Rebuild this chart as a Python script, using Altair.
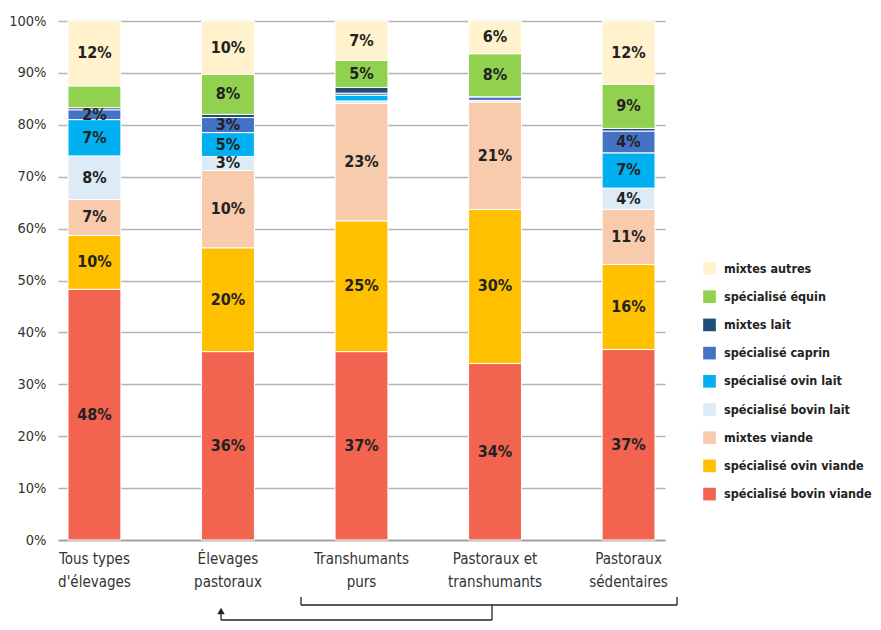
import altair as alt
import pandas as pd

groups = ["Tous types|d'élevages", "Élevages|pastoraux", "Transhumants|purs",
          "Pastoraux et|transhumants", "Pastoraux|sédentaires"]

series = ["spécialisé bovin viande", "spécialisé ovin viande", "mixtes viande",
          "spécialisé bovin lait", "spécialisé ovin lait", "spécialisé caprin",
          "mixtes lait", "spécialisé équin", "mixtes autres"]

colors = ["#F26450", "#FFC000", "#F8CBAD", "#DDEBF7", "#00B0F0", "#4472C4",
          "#1F4E79", "#92D050", "#FFF2CC"]

bovin_viande = [48.3, 36.3, 36.3, 34.0, 36.7]
ovin_viande = [10.4, 20.0, 25.2, 29.7, 16.4]
mixtes_viande = [6.9, 14.9, 22.6, 20.7, 10.6]
bovin_lait = [8.4, 2.7, 0.5, 0.3, 4.1]
ovin_lait = [7.0, 4.6, 1.1, 0.0, 6.8]
caprin = [1.9, 2.9, 0.4, 0.7, 4.2]
mixtes_lait = [0.4, 0.6, 1.1, 0.0, 0.5]
equin = [4.2, 7.7, 5.2, 8.3, 8.5]
autres = [12.5, 10.3, 7.6, 6.3, 12.2]

lab_bovin_viande = ["48%", "36%", "37%", "34%", "37%"]
lab_ovin_viande = ["10%", "20%", "25%", "30%", "16%"]
lab_mixtes_viande = ["7%", "10%", "23%", "21%", "11%"]
lab_bovin_lait = ["8%", "3%", "", "", "4%"]
lab_ovin_lait = ["7%", "5%", "", "", "7%"]
lab_caprin = ["2%", "3%", "", "", "4%"]
lab_mixtes_lait = ["", "", "", "", ""]
lab_equin = ["", "8%", "5%", "8%", "9%"]
lab_autres = ["12%", "10%", "7%", "6%", "12%"]

values = [bovin_viande, ovin_viande, mixtes_viande, bovin_lait, ovin_lait,
          caprin, mixtes_lait, equin, autres]
labels = [lab_bovin_viande, lab_ovin_viande, lab_mixtes_viande, lab_bovin_lait,
          lab_ovin_lait, lab_caprin, lab_mixtes_lait, lab_equin, lab_autres]

rows = []
for si, s in enumerate(series):
    for gi, g in enumerate(groups):
        rows.append({"group": g, "serie": s, "order": si,
                     "value": values[si][gi], "label": labels[si][gi]})
df = pd.DataFrame(rows)

FONT = "DejaVu Sans Condensed, Liberation Sans Narrow, Roboto, sans-serif"

base = alt.Chart(df).transform_stack(
    stack="value", groupby=["group"], sort=[alt.SortField("order")], as_=["y0", "y1"]
).transform_calculate(mid="(datum.y0 + datum.y1) / 2")

xenc = alt.X("group:N", sort=groups, title=None,
             scale=alt.Scale(paddingInner=0.604, paddingOuter=0.075),
             axis=alt.Axis(labelAngle=0, labelExpr="split(datum.label, '|')",
                           labelFont=FONT, labelFontSize=15, labelColor="#333",
                           labelLineHeight=23, labelPadding=11, ticks=False,
                           domain=True, domainColor="#999", domainWidth=1.5,
                           grid=False))

bars = base.mark_bar(stroke="white", strokeWidth=1).encode(
    x=xenc,
    y=alt.Y("y0:Q", scale=alt.Scale(domain=[0, 100]), title=None,
            axis=alt.Axis(values=list(range(0, 101, 10)),
                          labelExpr="datum.value + '%'",
                          labelFont=FONT, labelFontSize=14.5, labelColor="#333",
                          labelPadding=12, ticks=False, domain=False,
                          grid=True, gridColor="#b4b4b4", gridWidth=1.5)),
    y2="y1:Q",
    color=alt.Color("serie:N",
                    scale=alt.Scale(domain=series[::-1], range=colors[::-1]),
                    legend=alt.Legend(title=None, orient="none", legendX=645,
                                      legendY=241, symbolType="square",
                                      symbolSize=160, symbolStrokeWidth=0,
                                      labelFont=FONT, labelFontSize=12.5,
                                      labelFontWeight="bold", labelColor="#222",
                                      rowPadding=15.2, labelOffset=8)),
)

texts = base.mark_text(font=FONT, fontSize=16, fontWeight="bold",
                       color="#222").encode(
    x=alt.X("group:N", sort=groups),
    y=alt.Y("mid:Q"),
    text="label:N",
)

one = pd.DataFrame({"k": [0]})
line_color = "#222"

def rule(x1, x2, y1, y2):
    return alt.Chart(one).mark_rule(color=line_color, strokeWidth=1.3).encode(
        x=alt.value(x1), x2=alt.value(x2), y=alt.value(y1), y2=alt.value(y2))

bracket = [
    rule(243, 243, 576, 584),
    rule(243, 619, 584, 584),
    rule(619, 619, 576, 584),
    rule(434, 434, 584, 599),
    rule(163, 434, 599, 599),
    rule(163, 163, 591, 599),
]
arrow = alt.Chart(one).mark_point(shape="triangle-up", filled=True,
                                  color=line_color, size=55, opacity=1).encode(
    x=alt.value(163), y=alt.value(590))

chart = alt.layer(bars, texts, *bracket, arrow).properties(
    width=607, height=519, padding={"left": 0, "top": 5, "right": 0, "bottom": 0}
).configure_view(stroke=None)

chart.save("out.html", embed_options={"renderer": "svg", "actions": False})
